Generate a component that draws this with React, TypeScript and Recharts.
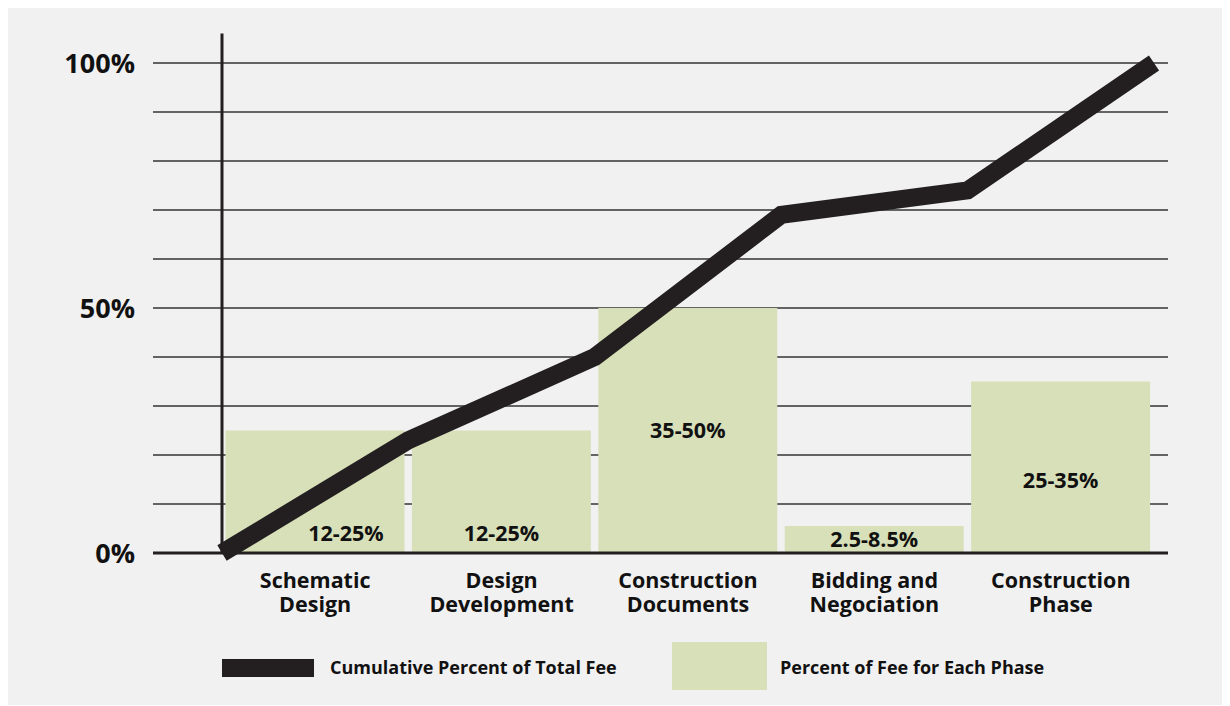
import React from "react";
import {
  ComposedChart,
  Bar,
  Line,
  XAxis,
  YAxis,
  CartesianGrid,
  ReferenceLine,
  Legend,
  LabelList,
} from "recharts";

const phases = [
  "Schematic\nDesign",
  "Design\nDevelopment",
  "Construction\nDocuments",
  "Bidding and\nNegociation",
  "Construction\nPhase",
];
const phaseFee = [25, 25, 50, 5.5, 35];
const feeRanges = ["12-25%", "12-25%", "35-50%", "2.5-8.5%", "25-35%"];

const progress = [0, 1, 2, 3, 4, 5];
const cumulativeFee = [0, 23, 40, 69, 74, 100];

const yTicks = [0, 10, 20, 30, 40, 50, 60, 70, 80, 90, 100];
const yLabelled = [0, 50, 100];

const seriesNames = ["Cumulative Percent of Total Fee", "Percent of Fee for Each Phase"];

const barData = phases.map((phase, i) => ({ phase, fee: phaseFee[i], range: feeRanges[i] }));
const lineData = progress.map((x, i) => ({ x, cum: cumulativeFee[i] }));

// where each range label sits inside its bar
const labelPlacement = [
  { anchor: "bottom", dx: 31, dy: -20 },
  { anchor: "bottom", dx: 0, dy: -20 },
  { anchor: "middle", dx: 0, dy: 0 },
  { anchor: "middle", dx: 0, dy: 0 },
  { anchor: "middle", dx: 0, dy: 13 },
];

const INK = "#231f20";
const TEXT = "#111111";
const GREEN = "#d8e0b9";
const FONT = "'Open Sans', sans-serif";
const PAD = { left: 69, right: 14 };

const PhaseTick = (props: any) => {
  const { x, y, payload } = props;
  const lines = String(payload.value).split("\n");
  return (
    <text textAnchor="middle" fill={TEXT} fontSize={21.5} fontWeight={700} fontFamily={FONT}>
      {lines.map((l, i) => (
        <tspan key={i} x={x} y={y + 35 + i * 24}>
          {l}
        </tspan>
      ))}
    </text>
  );
};

const RangeLabel = (props: any) => {
  const { x, y, width, height, index } = props;
  const p = labelPlacement[index];
  const cx = x + width / 2 + p.dx;
  const cy = p.anchor === "bottom" ? y + height + p.dy : y + height / 2 + p.dy;
  return (
    <text
      x={cx}
      y={cy}
      dy={7.5}
      textAnchor="middle"
      fill={TEXT}
      fontSize={21.5}
      fontWeight={700}
      fontFamily={FONT}
    >
      {feeRanges[index]}
    </text>
  );
};

const LegendBox = () => (
  <div style={{ position: "relative", width: 1218, height: 82, fontFamily: FONT }}>
    <div style={{ position: "absolute", left: 214, top: 36, width: 92, height: 18, background: INK }} />
    <div
      style={{
        position: "absolute",
        left: 322,
        top: 32,
        fontSize: 18,
        fontWeight: 700,
        color: TEXT,
        lineHeight: "24px",
      }}
    >
      {seriesNames[0]}
    </div>
    <div style={{ position: "absolute", left: 664, top: 19, width: 95, height: 48, background: GREEN }} />
    <div
      style={{
        position: "absolute",
        left: 772,
        top: 32,
        fontSize: 18,
        fontWeight: 700,
        color: TEXT,
        lineHeight: "24px",
      }}
    >
      {seriesNames[1]}
    </div>
  </div>
);

export default function App() {
  return (
    <div style={{ width: 1218, height: 697, background: "#f1f1f1" }}>
      <ComposedChart
        width={1218}
        height={697}
        data={barData}
        barCategoryGap={3.5}
        margin={{ top: 55, right: 58, bottom: 0, left: 0 }}
        style={{ fontFamily: FONT }}
      >
        <CartesianGrid vertical={false} stroke="#333333" strokeWidth={1.5} />
        <XAxis
          xAxisId="cat"
          dataKey="phase"
          padding={PAD}
          interval={0}
          height={70}
          tickLine={false}
          tickSize={0}
          tickMargin={0}
          axisLine={{ stroke: INK, strokeWidth: 3 }}
          tick={<PhaseTick />}
        />
        <XAxis xAxisId="num" dataKey="x" type="number" domain={[0, 5]} padding={PAD} hide />
        <YAxis
          domain={[0, 100]}
          ticks={yTicks}
          interval={0}
          width={145}
          axisLine={false}
          tickLine={false}
          tickSize={0}
          tickMargin={18}
          tickFormatter={(v: number) => (yLabelled.includes(v) ? `${v}%` : "")}
          tick={{ fontSize: 27, fontWeight: 700, fill: TEXT, fontFamily: FONT }}
        />
        <Legend verticalAlign="bottom" height={82} content={() => <LegendBox />} />
        <Bar xAxisId="cat" dataKey="fee" name={seriesNames[1]} fill={GREEN} isAnimationActive={false}>
          <LabelList dataKey="range" content={<RangeLabel />} />
        </Bar>
        <ReferenceLine
          xAxisId="num"
          segment={[
            { x: 0, y: 0 },
            { x: 0, y: 106 },
          ]}
          ifOverflow="visible"
          stroke={INK}
          strokeWidth={3}
        />
        <Line
          xAxisId="num"
          data={lineData}
          dataKey="cum"
          name={seriesNames[0]}
          type="linear"
          stroke={INK}
          strokeWidth={18}
          strokeLinejoin="miter"
          strokeLinecap="butt"
          dot={false}
          activeDot={false}
          isAnimationActive={false}
        />
      </ComposedChart>
    </div>
  );
}
